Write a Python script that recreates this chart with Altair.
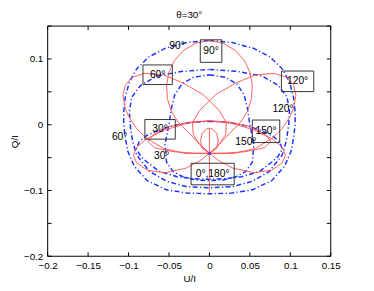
import altair as alt
import pandas as pd

TITLE = "θ=30°"
X_TITLE = "U/I"
Y_TITLE = "Q/I"
TICKS = [-0.2, -0.15, -0.1, -0.05, 0, 0.05, 0.1, 0.15]

# ---- blue dash-dot curves (U/I, Q/I) ----
C1_U = [0, 0.028, 0.055, 0.075, 0.09, 0.099, 0.104, 0.106, 0.106, 0.104, 0.101, 0.093, 0.077, 0.053, 0.027, 0,
        -0.027, -0.053, -0.077, -0.093, -0.101, -0.104, -0.106, -0.106, -0.104, -0.099, -0.09, -0.075, -0.055, -0.028, 0]
C1_Q = [0.128, 0.125, 0.116, 0.103, 0.085, 0.065, 0.042, 0.02, 0.0, -0.02, -0.04, -0.063, -0.085, -0.099, -0.104, -0.105,
        -0.104, -0.099, -0.085, -0.063, -0.04, -0.02, 0.0, 0.02, 0.042, 0.065, 0.085, 0.103, 0.116, 0.125, 0.128]
C2_U = [0, 0.035, 0.065, 0.085, 0.096, 0.099, 0.098, 0.095, 0.09, 0.074, 0.053, 0.029, 0,
        -0.029, -0.053, -0.074, -0.09, -0.095, -0.098, -0.099, -0.096, -0.085, -0.065, -0.035, 0]
C2_Q = [0.084, 0.081, 0.074, 0.06, 0.042, 0.02, 0.0, -0.025, -0.046, -0.071, -0.086, -0.094, -0.096,
        -0.094, -0.086, -0.071, -0.046, -0.025, 0.0, 0.02, 0.042, 0.06, 0.074, 0.081, 0.084]
C3_U = [0, 0.02, 0.034, 0.043, 0.047, 0.05, 0.055, 0.053, 0.045, 0.033, 0.017, 0,
        -0.017, -0.033, -0.045, -0.053, -0.055, -0.05, -0.047, -0.043, -0.034, -0.02, 0]
C3_Q = [0.076, 0.072, 0.062, 0.045, 0.025, 0.0, -0.03, -0.057, -0.071, -0.079, -0.084, -0.085,
        -0.084, -0.079, -0.071, -0.057, -0.03, 0.0, 0.025, 0.045, 0.062, 0.072, 0.076]
C4_U = [0, 0.02, 0.04, 0.06, 0.077, 0.087, 0.09, 0.085, 0.077, 0.062, 0.04, 0.02, 0,
        -0.02, -0.04, -0.062, -0.077, -0.085, -0.09, -0.087, -0.077, -0.06, -0.04, -0.02, 0]
C4_Q = [0.005, 0.004, 0.0, -0.007, -0.016, -0.026, -0.037, -0.048, -0.057, -0.071, -0.079, -0.082, -0.083,
        -0.082, -0.079, -0.071, -0.057, -0.048, -0.037, -0.026, -0.016, -0.007, 0.0, 0.004, 0.005]

# ---- red solid curves ----
R0_U = [0, 0]
R0_Q = [-0.006, -0.104]
R90_U = [0, 0.012, 0.025, 0.038, 0.047, 0.052, 0.053, 0.05, 0.043, 0.032, 0.017, 0,
         -0.017, -0.032, -0.043, -0.05, -0.053, -0.052, -0.047, -0.038, -0.025, -0.012, 0]
R90_Q = [-0.0435, -0.03, -0.013, 0.003, 0.02, 0.04, 0.06, 0.08, 0.098, 0.113, 0.124, 0.128,
         0.124, 0.113, 0.098, 0.08, 0.06, 0.04, 0.02, 0.003, -0.013, -0.03, -0.0435]
R60_U = [0, 0.012, 0.02, 0.021, 0.012, -0.008, -0.032, -0.057, -0.08, -0.096, -0.104, -0.107, -0.104,
         -0.1, -0.09, -0.077, -0.057, -0.029, 0]
R60_Q = [-0.0435, -0.03, -0.015, 0.003, 0.022, 0.046, 0.063, 0.076, 0.078, 0.072, 0.06, 0.045, 0.025,
         0.013, -0.006, -0.021, -0.036, -0.044, -0.0435]
R120_U = [0, -0.012, -0.02, -0.021, -0.012, 0.008, 0.032, 0.057, 0.08, 0.096, 0.104, 0.107, 0.104,
          0.1, 0.09, 0.077, 0.057, 0.029, 0]
R120_Q = [-0.0435, -0.03, -0.015, 0.003, 0.022, 0.046, 0.063, 0.076, 0.078, 0.072, 0.06, 0.045, 0.025,
          0.013, -0.006, -0.021, -0.036, -0.044, -0.0435]
R30_U = [0, -0.012, -0.029, -0.055, -0.077, -0.09, -0.094, -0.09, -0.077, -0.055, -0.028, 0,
         0.025, 0.05, 0.068, 0.076, 0.068, 0.045, 0.02, 0]
R30_Q = [-0.0435, -0.055, -0.066, -0.073, -0.069, -0.058, -0.046, -0.034, -0.021, -0.008, 0.002, 0.006,
         0.004, -0.003, -0.014, -0.025, -0.035, -0.041, -0.043, -0.0435]
R150_U = [0, 0.012, 0.029, 0.055, 0.077, 0.09, 0.094, 0.09, 0.077, 0.055, 0.028, 0,
          -0.025, -0.05, -0.068, -0.076, -0.068, -0.045, -0.02, 0]
R150_Q = [-0.0435, -0.055, -0.066, -0.073, -0.069, -0.058, -0.046, -0.034, -0.021, -0.008, 0.002, 0.006,
          0.004, -0.003, -0.014, -0.025, -0.035, -0.041, -0.043, -0.0435]
S1_U = [0, -0.009, -0.011, -0.009, -0.004, 0, 0.004, 0.009, 0.011, 0.009, 0]
S1_Q = [-0.0435, -0.036, -0.025, -0.013, -0.007, -0.005, -0.007, -0.013, -0.025, -0.036, -0.0435]

CENTER_U = [0]
CENTER_Q = [-0.0435]

# ---- labels ----
BOX_TEXT = ["60°", "90°", "120°", "30°", "150°", "0°,180°"]
BOX_U = [-0.064, 0.002, 0.109, -0.061, 0.070, 0.004]
BOX_Q = [0.076, 0.112, 0.066, -0.007, -0.010, -0.075]
LBL_TEXT = ["90°", "60°", "30°", "120°", "150°"]
LBL_U = [-0.040, -0.111, -0.059, 0.091, 0.045]
LBL_Q = [0.119, -0.018, -0.048, 0.024, -0.027]

# box outlines (styling): custom symbol paths, scaled by sqrt(size)/2 = 10 px
BOX_PATHS = {
    "60°": "M-1.5,-1L1.5,-1L1.5,1L-1.5,1Z",
    "90°": "M-1.1,-1.15L1.1,-1.15L1.1,1.15L-1.1,1.15Z",
    "120°": "M-1.65,-1.05L1.65,-1.05L1.65,1.05L-1.65,1.05Z",
    "30°": "M-1.55,-1L1.55,-1L1.55,1L-1.55,1Z",
    "150°": "M-1.4,-1.15L1.4,-1.15L1.4,1.15L-1.4,1.15Z",
    "0°,180°": "M-2.2,-1.1L2.2,-1.1L2.2,1.1L-2.2,1.1Z",
}

FONT = "Liberation Sans"
W, H = 289, 235


def curves_frame(curves):
    rows = []
    for name, us, qs in curves:
        for i, (u, q) in enumerate(zip(us, qs)):
            rows.append({"curve": name, "i": i, "U": u, "Q": q})
    return pd.DataFrame(rows)


blue = curves_frame([("C1", C1_U, C1_Q), ("C2", C2_U, C2_Q), ("C3", C3_U, C3_Q), ("C4", C4_U, C4_Q)])
red = curves_frame([("R0", R0_U, R0_Q), ("R90", R90_U, R90_Q), ("R60", R60_U, R60_Q),
                    ("R120", R120_U, R120_Q), ("R30", R30_U, R30_Q), ("R150", R150_U, R150_Q),
                    ("S1", S1_U, S1_Q)])
boxes = pd.DataFrame({"t": BOX_TEXT, "U": BOX_U, "Q": BOX_Q,
                      "path": [BOX_PATHS[t] for t in BOX_TEXT]})
labels = pd.DataFrame({"t": LBL_TEXT, "U": LBL_U, "Q": LBL_Q})
center = pd.DataFrame({"U": CENTER_U, "Q": CENTER_Q})
xt = pd.DataFrame({"v": TICKS})
one = pd.DataFrame({"k": [0]})

xscale = alt.Scale(domain=[-0.2, 0.15], nice=False, zero=False)
yscale = alt.Scale(domain=[-0.2, 0.15], nice=False, zero=False)

X = alt.X("U:Q", scale=xscale,
          axis=alt.Axis(title=X_TITLE, values=TICKS, format=".2~f", grid=False, ticks=False, domain=False,
                        labelFont=FONT, labelFontSize=10, labelColor="black", labelPadding=4,
                        titleFont=FONT, titleFontSize=10, titleFontWeight="normal", titleColor="black",
                        titlePadding=4, labelFlush=False))
Y = alt.Y("Q:Q", scale=yscale,
          axis=alt.Axis(title=Y_TITLE, values=TICKS, format=".2~f", grid=False, ticks=False, domain=False,
                        labelFont=FONT, labelFontSize=10, labelColor="black", labelPadding=5,
                        titleFont=FONT, titleFontSize=10, titleFontWeight="normal", titleColor="black",
                        titlePadding=4, labelFlush=False))

blue_layer = alt.Chart(blue).mark_line(color="#1a33ff", strokeWidth=1.5, strokeDash=[5, 2.5, 1.2, 2.5],
                                       clip=True).encode(
    x=X, y=Y, detail="curve:N", order="i:Q")
red_layer = alt.Chart(red).mark_line(color="#ff4d4d", strokeWidth=1.0, opacity=0.9, clip=True).encode(
    x=alt.X("U:Q", scale=xscale), y=alt.Y("Q:Q", scale=yscale), detail="curve:N", order="i:Q")
center_layer = alt.Chart(center).mark_point(filled=True, size=14, color="#7a2fc0", opacity=0.85).encode(
    x=alt.X("U:Q", scale=xscale), y=alt.Y("Q:Q", scale=yscale))
box_layer = alt.Chart(boxes).mark_point(filled=False, size=400, color="#333333", strokeWidth=1,
                                         opacity=1).encode(
    x=alt.X("U:Q", scale=xscale), y=alt.Y("Q:Q", scale=yscale), shape=alt.Shape("path:N", scale=None))
box_text = alt.Chart(boxes).mark_text(font=FONT, fontSize=10.5, color="black", baseline="middle",
                                      align="center").encode(
    x=alt.X("U:Q", scale=xscale), y=alt.Y("Q:Q", scale=yscale), text="t:N")
lbl_text = alt.Chart(labels).mark_text(font=FONT, fontSize=10.5, color="black", baseline="middle",
                                       align="center").encode(
    x=alt.X("U:Q", scale=xscale), y=alt.Y("Q:Q", scale=yscale), text="t:N")

tick_x_bot = alt.Chart(xt).mark_rule(color="black", strokeWidth=1).encode(
    x=alt.X("v:Q", scale=xscale), y=alt.value(H), y2=alt.value(H - 4))
tick_x_top = alt.Chart(xt).mark_rule(color="black", strokeWidth=1).encode(
    x=alt.X("v:Q", scale=xscale), y=alt.value(0), y2=alt.value(4))
tick_y_l = alt.Chart(xt).mark_rule(color="black", strokeWidth=1).encode(
    y=alt.Y("v:Q", scale=yscale), x=alt.value(0), x2=alt.value(4))
tick_y_r = alt.Chart(xt).mark_rule(color="black", strokeWidth=1).encode(
    y=alt.Y("v:Q", scale=yscale), x=alt.value(W), x2=alt.value(W - 4))

# plot frame
frame_top = alt.Chart(one).mark_rule(color="black", strokeWidth=1).encode(
    x=alt.value(0), x2=alt.value(W), y=alt.value(0))
frame_bot = alt.Chart(one).mark_rule(color="black", strokeWidth=1).encode(
    x=alt.value(0), x2=alt.value(W), y=alt.value(H))
frame_l = alt.Chart(one).mark_rule(color="black", strokeWidth=1).encode(
    x=alt.value(0), y=alt.value(0), y2=alt.value(H))
frame_r = alt.Chart(one).mark_rule(color="black", strokeWidth=1).encode(
    x=alt.value(W), y=alt.value(0), y2=alt.value(H))

chart = alt.layer(
    blue_layer, red_layer, center_layer, box_layer, box_text, lbl_text,
    tick_x_bot, tick_x_top, tick_y_l, tick_y_r, frame_top, frame_bot, frame_l, frame_r
).properties(
    width=W, height=H,
    title=alt.TitleParams(TITLE, font=FONT, fontSize=10, fontWeight="normal", color="black",
                          anchor="middle", offset=6),
    autosize=alt.AutoSizeParams(type="none"),
    padding={"left": 40.5, "top": 15.5, "right": 36, "bottom": 32},
    background="white",
).configure_view(strokeWidth=0)

chart.save("out.html", embed_options={"renderer": "svg", "actions": False})
